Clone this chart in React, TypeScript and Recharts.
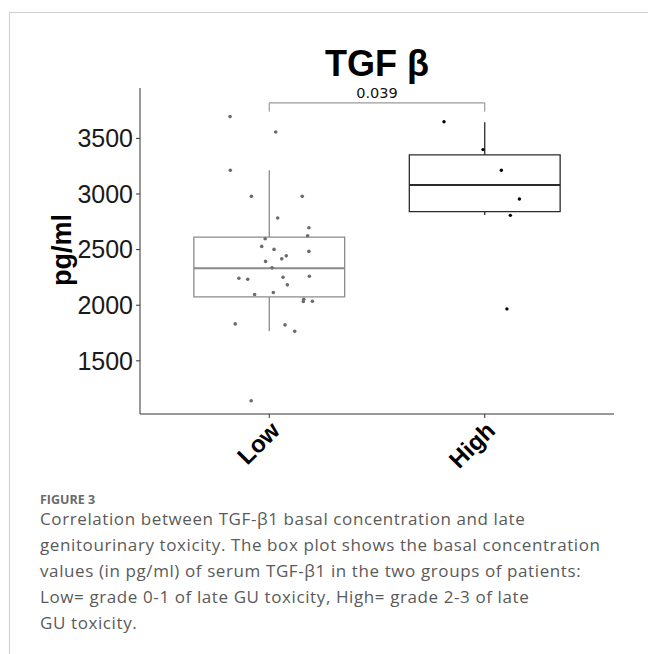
import React from "react";
import { ComposedChart, Scatter, XAxis, YAxis, ReferenceArea, ReferenceLine } from "recharts";

const groups = ["Low", "High"];
const yTicks = [1500, 2000, 2500, 3000, 3500];

// [lower whisker, q1, median, q3, upper whisker]
const lowBox = [1768, 2075, 2333, 2613, 3213];
const highBox = [2811, 2841, 3081, 3351, 3646];

// jittered points, x = group index + jitter
const lowPoints = [
  { x: -0.182, y: 3696 }, { x: 0.03, y: 3558 }, { x: -0.181, y: 3213 }, { x: -0.083, y: 2979 },
  { x: 0.153, y: 2979 }, { x: 0.039, y: 2784 }, { x: 0.184, y: 2697 }, { x: 0.178, y: 2625 },
  { x: -0.019, y: 2598 }, { x: -0.035, y: 2529 }, { x: 0.022, y: 2502 }, { x: 0.184, y: 2484 },
  { x: -0.017, y: 2394 }, { x: 0.079, y: 2444 }, { x: 0.058, y: 2417 }, { x: 0.013, y: 2336 },
  { x: -0.141, y: 2243 }, { x: -0.1, y: 2234 }, { x: 0.064, y: 2252 }, { x: 0.186, y: 2261 },
  { x: 0.084, y: 2183 }, { x: -0.068, y: 2096 }, { x: 0.019, y: 2114 }, { x: 0.16, y: 2054 },
  { x: 0.158, y: 2033 }, { x: 0.2, y: 2036 }, { x: -0.158, y: 1832 }, { x: 0.073, y: 1823 },
  { x: 0.118, y: 1766 }, { x: -0.084, y: 1141 },
];
const highPoints = [
  { x: 0.811, y: 3649 }, { x: 0.992, y: 3399 }, { x: 1.077, y: 3213 },
  { x: 1.161, y: 2955 }, { x: 1.119, y: 2808 }, { x: 1.103, y: 1967 },
];

const pValue = "0.039";
const bracket = [3741, 3820];

const caption = [
  "Correlation between TGF-\u03b21 basal concentration and late",
  "genitourinary toxicity. The box plot shows the basal concentration",
  "values (in pg/ml) of serum TGF-\u03b21 in the two groups of patients:",
  "Low= grade 0-1 of late GU toxicity, High= grade 2-3 of late",
  "GU toxicity.",
];

const font = "'Liberation Sans', Arial, sans-serif";
const halfW = 0.35;

function XTick({ x, y, payload }: any) {
  return (
    <text
      x={x}
      y={y}
      dy={17}
      transform={`rotate(-45, ${x}, ${y})`}
      textAnchor="end"
      fontSize={24}
      fontWeight="bold"
      fontFamily={font}
      fill="#000"
    >
      {groups[payload.value]}
    </text>
  );
}

function Box({ i, stats, color, median }: { i: number; stats: number[]; color: string; median: number }) {
  const [lo, q1, med, q3, hi] = stats;
  return (
    <>
      <ReferenceLine segment={[{ x: i, y: q3 }, { x: i, y: hi }]} stroke={color} strokeWidth={1.3} />
      <ReferenceLine segment={[{ x: i, y: lo }, { x: i, y: q1 }]} stroke={color} strokeWidth={1.3} />
      <ReferenceArea x1={i - halfW} x2={i + halfW} y1={q1} y2={q3} fill="none" stroke={color} strokeWidth={1.3} />
      <ReferenceLine segment={[{ x: i - halfW, y: med }, { x: i + halfW, y: med }]} stroke={color} strokeWidth={median} />
    </>
  );
}

export default function App() {
  return (
    <div style={{ position: "absolute", left: 0, top: 0, width: 648, height: 654, background: "#fff", overflow: "hidden" }}>
      <div style={{ position: "absolute", left: 9, top: 12, width: 660, height: 660, borderLeft: "1px solid #cfcfcf", borderTop: "1px solid #cfcfcf" }} />
      <div style={{ position: "absolute", left: 0, top: 0 }}>
        <ComposedChart width={648} height={480} margin={{ top: 88, right: 34, bottom: 6, left: 60 }}>
          <XAxis
            dataKey="x"
            type="number"
            domain={[-0.6, 1.6]}
            ticks={[0, 1]}
            tick={<XTick />}
            tickSize={4}
            height={60}
            stroke="#333"
            interval={0}
          />
          <YAxis
            dataKey="y"
            type="number"
            domain={[1022, 3953]}
            ticks={yTicks}
            width={80}
            tickSize={4}
            tickMargin={3}
            stroke="#333"
            tick={{ fontSize: 25, fill: "#1a1a1a", fontFamily: font }}
            interval={0}
          />
          {Box({ i: 0, stats: lowBox, color: "#8a8a8a", median: 2 })}
          {Box({ i: 1, stats: highBox, color: "#2b2b2b", median: 2 })}
          <ReferenceLine segment={[{ x: 0, y: bracket[0] }, { x: 0, y: bracket[1] }]} stroke="#9a9a9a" strokeWidth={1.2} />
          <ReferenceLine segment={[{ x: 1, y: bracket[0] }, { x: 1, y: bracket[1] }]} stroke="#9a9a9a" strokeWidth={1.2} />
          <ReferenceLine
            segment={[{ x: 0, y: bracket[1] }, { x: 1, y: bracket[1] }]}
            stroke="#9a9a9a"
            strokeWidth={1.2}
            label={{ value: pValue, position: "top", fontSize: 14.5, fill: "#111", fontFamily: "'DejaVu Sans', sans-serif" }}
          />
          <Scatter
            data={lowPoints}
            isAnimationActive={false}
            shape={(p: any) => <circle cx={p.cx} cy={p.cy} r={1.8} fill="#6b6b6b" />}
          />
          <Scatter
            data={highPoints}
            isAnimationActive={false}
            shape={(p: any) => <circle cx={p.cx} cy={p.cy} r={1.7} fill="#000" />}
          />
        </ComposedChart>
      </div>
      <div style={{ position: "absolute", left: 377, top: 44, transform: "translateX(-50%)", fontFamily: font, fontWeight: "bold", fontSize: 36, lineHeight: "40px", whiteSpace: "nowrap", color: "#000" }}>
        TGF {"\u03b2"}
      </div>
      <div style={{ position: "absolute", left: 62, top: 250, transform: "translate(-50%, -50%) rotate(-90deg)", fontFamily: font, fontWeight: "bold", fontSize: 27, lineHeight: "30px", whiteSpace: "nowrap", color: "#000" }}>
        pg/ml
      </div>
      <div style={{ position: "absolute", left: 40, top: 491, fontFamily: "'Open Sans', sans-serif", fontWeight: "bold", fontSize: 12.5, letterSpacing: 0, color: "#6a6a6a" }}>
        FIGURE 3
      </div>
      <div style={{ position: "absolute", left: 40, top: 506, fontFamily: "'Open Sans', sans-serif", fontSize: 17, letterSpacing: 0.6, lineHeight: "26px", color: "#5a5a5a" }}>
        {caption.map((l, k) => (
          <div key={k} style={{ whiteSpace: "nowrap" }}>{l}</div>
        ))}
      </div>
    </div>
  );
}
